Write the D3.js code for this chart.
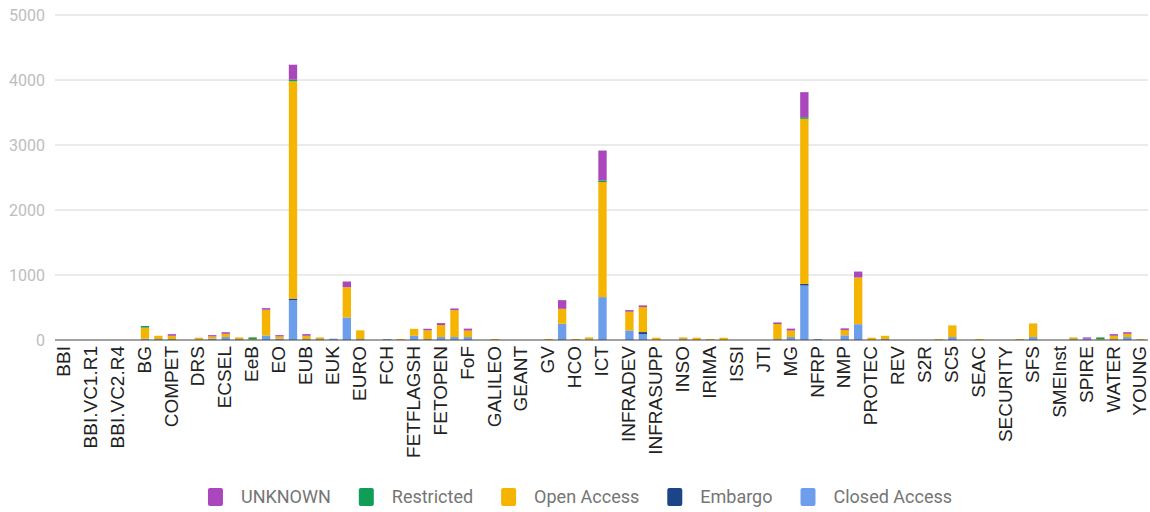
<!DOCTYPE html>
<html>
<head>
<meta charset="utf-8">
<script src="https://cdn.jsdelivr.net/npm/d3@7"></script>
<style>
  body { margin: 0; background: #fff; }
</style>
</head>
<body>
<div id="chart"></div>
<script>
// categories (only every other one gets a label on the axis)
const categories = [
  "BBI", "BBI.R1", "BBI.VC1.R1", "BBI.VC1.R2", "BBI.VC2.R4", "BBI.VC3.R5", "BG", "BIOTEC",
  "COMPET", "CULT", "DRS", "DS", "ECSEL", "EE", "EeB", "ENERGY", "EO", "ERC", "EUB", "EUJ",
  "EUK", "EURATOM", "EURO", "FBD", "FCH", "FETFLAG", "FETFLAGSH", "FETHPC", "FETOPEN", "FETPROACT",
  "FoF", "FTI", "GALILEO", "GARRI", "GEANT", "GOV", "GV", "H2020", "HCO", "HEALTH",
  "ICT", "IND", "INFRADEV", "INFRAIA", "INFRASUPP", "INNOSUP", "INSO", "INT", "IRIMA", "ISIB",
  "ISSI", "JRC", "JTI", "LEIT", "MG", "MSCA", "NFRP", "NMBP", "NMP", "PEOPLE",
  "PROTEC", "REFLECTIVE", "REV", "RUR", "S2R", "SC1", "SC5", "SCC", "SEAC", "SEC",
  "SECURITY", "SESAR", "SFS", "SIS", "SMEInst", "SPACE", "SPIRE", "SwafS", "WATER", "WIDESPREAD",
  "YOUNG"
];

const closedAccess = [
  0, 0, 0, 0, 0, 0, 20, 15, 15, 0, 10, 20, 45, 15, 0, 70, 20, 612, 15, 15,
  20, 346, 15, 0, 15, 0, 65, 15, 45, 45, 45, 0, 0, 0, 0, 0, 0, 250, 0, 10,
  660, 0, 148, 92, 0, 0, 15, 0, 0, 0, 0, 0, 0, 15, 45, 838, 15, 0, 72, 243,
  0, 15, 0, 0, 0, 0, 45, 0, 0, 0, 0, 0, 45, 0, 0, 15, 20, 0, 15, 45,
  0
];
const embargo = [
  0, 0, 0, 0, 0, 0, 0, 0, 0, 0, 0, 0, 0, 0, 0, 0, 0, 25, 0, 0,
  0, 0, 0, 0, 0, 0, 0, 0, 0, 0, 0, 0, 0, 0, 0, 0, 0, 0, 0, 0,
  0, 0, 0, 30, 0, 0, 0, 0, 0, 0, 0, 0, 0, 0, 0, 25, 0, 0, 0, 0,
  0, 0, 0, 0, 0, 0, 0, 0, 0, 0, 0, 0, 0, 0, 0, 0, 0, 0, 0, 0,
  0
];
const openAccess = [
  0, 0, 0, 0, 0, 0, 170, 50, 50, 0, 25, 35, 50, 25, 15, 395, 35, 3343, 50, 25,
  0, 467, 134, 0, 0, 15, 107, 133, 185, 415, 100, 0, 15, 0, 0, 0, 15, 230, 15, 30,
  1770, 0, 287, 385, 35, 0, 25, 35, 15, 35, 0, 0, 0, 230, 100, 2540, 0, 0, 82, 718,
  35, 50, 0, 0, 0, 15, 180, 0, 15, 0, 0, 15, 210, 0, 0, 25, 0, 15, 50, 50,
  15
];
const restricted = [
  0, 0, 0, 0, 0, 0, 25, 0, 0, 0, 0, 0, 0, 0, 25, 0, 0, 25, 0, 0,
  0, 0, 0, 0, 0, 0, 0, 0, 0, 0, 0, 0, 0, 0, 0, 0, 0, 0, 0, 0,
  25, 0, 0, 0, 0, 0, 0, 0, 0, 0, 0, 0, 0, 0, 0, 25, 0, 0, 0, 0,
  0, 0, 0, 0, 0, 0, 0, 0, 0, 0, 0, 0, 0, 0, 0, 0, 0, 25, 0, 0,
  0
];
const unknown = [
  0, 0, 0, 0, 0, 0, 0, 0, 25, 0, 0, 20, 25, 0, 0, 25, 20, 230, 25, 0,
  0, 87, 0, 0, 0, 0, 0, 25, 30, 25, 30, 0, 0, 0, 0, 0, 0, 133, 0, 0,
  460, 0, 25, 25, 0, 0, 0, 0, 0, 0, 0, 0, 0, 25, 30, 385, 0, 0, 25, 92,
  0, 0, 0, 0, 0, 0, 0, 0, 0, 0, 0, 0, 0, 0, 0, 0, 20, 0, 25, 25,
  0
];

const yTicks = [0, 1000, 2000, 3000, 4000, 5000];

// stacking order bottom -> top, legend shows it reversed
const seriesNames = ["Closed Access", "Embargo", "Open Access", "Restricted", "UNKNOWN"];
const seriesValues = [closedAccess, embargo, openAccess, restricted, unknown];
const colors = ["#6d9eeb", "#1c4587", "#f4b400", "#0f9d58", "#ab47bc"];

const width = 1150, height = 512;
const plot = {left: 55, right: 1148, top: 15, bottom: 340};

const svg = d3.select("#chart")
  .append("svg")
  .attr("width", width)
  .attr("height", height)
  .style("font-family", "Roboto, sans-serif");

const x = d3.scaleBand()
  .domain(categories)
  .range([57.5, 1147.5])
  .paddingInner(0.38)
  .paddingOuter(0.19);

const y = d3.scaleLinear()
  .domain([0, 5000])
  .range([plot.bottom, plot.top]);

// gridlines + y labels
svg.append("g")
  .selectAll("line")
  .data(yTicks.filter(d => d > 0))
  .join("line")
  .attr("x1", plot.left)
  .attr("x2", plot.right)
  .attr("y1", d => y(d))
  .attr("y2", d => y(d))
  .attr("stroke", "#d6d6d6")
  .attr("stroke-width", 1);

svg.append("g")
  .selectAll("text")
  .data(yTicks)
  .join("text")
  .attr("x", 45)
  .attr("y", d => y(d))
  .attr("dy", "0.35em")
  .attr("text-anchor", "end")
  .style("font-size", "16px")
  .style("fill", "#bdbdbd")
  .text(d => d);

// stacked bars
const table = categories.map((c, i) => {
  const row = {cat: c};
  seriesNames.forEach((s, k) => row[s] = seriesValues[k][i]);
  return row;
});
const stacked = d3.stack().keys(seriesNames)(table);

svg.append("g")
  .selectAll("g")
  .data(stacked)
  .join("g")
  .attr("fill", (d, k) => colors[k])
  .selectAll("rect")
  .data(d => d.filter(p => p[1] > p[0]))
  .join("rect")
  .attr("x", p => x(p.data.cat))
  .attr("width", x.bandwidth())
  .attr("y", p => y(p[1]))
  .attr("height", p => y(p[0]) - y(p[1]));

// baseline
svg.append("line")
  .attr("x1", plot.left)
  .attr("x2", plot.right)
  .attr("y1", y(0))
  .attr("y2", y(0))
  .attr("stroke", "#444")
  .attr("stroke-width", 1);

// x labels, every other category
svg.append("g")
  .selectAll("text")
  .data(categories.filter((c, i) => i % 2 === 0))
  .join("text")
  .attr("transform", c => `translate(${x(c) + x.bandwidth() / 2},346) rotate(-90)`)
  .attr("dy", "0.3em")
  .attr("text-anchor", "end")
  .style("font-family", "'Liberation Sans', Arial, sans-serif")
  .style("font-size", "19px")
  .style("fill", "#222")
  .text(c => c);

// legend
const legend = svg.append("g");
const legendOrder = [4, 3, 2, 1, 0];
let lx = 0;
legendOrder.forEach(k => {
  const item = legend.append("g").attr("transform", `translate(${lx},0)`);
  item.append("rect")
    .attr("x", 0)
    .attr("y", -9)
    .attr("width", 15)
    .attr("height", 18)
    .attr("rx", 2)
    .attr("fill", colors[k]);
  const t = item.append("text")
    .attr("x", 33)
    .attr("dy", "0.35em")
    .style("font-size", "18px")
    .style("fill", "#757575")
    .text(seriesNames[k]);
  lx += 33 + t.node().getComputedTextLength() + 28;
});
lx -= 28;
legend.attr("transform", `translate(${580 - lx / 2},497)`);
</script>
</body>
</html>
